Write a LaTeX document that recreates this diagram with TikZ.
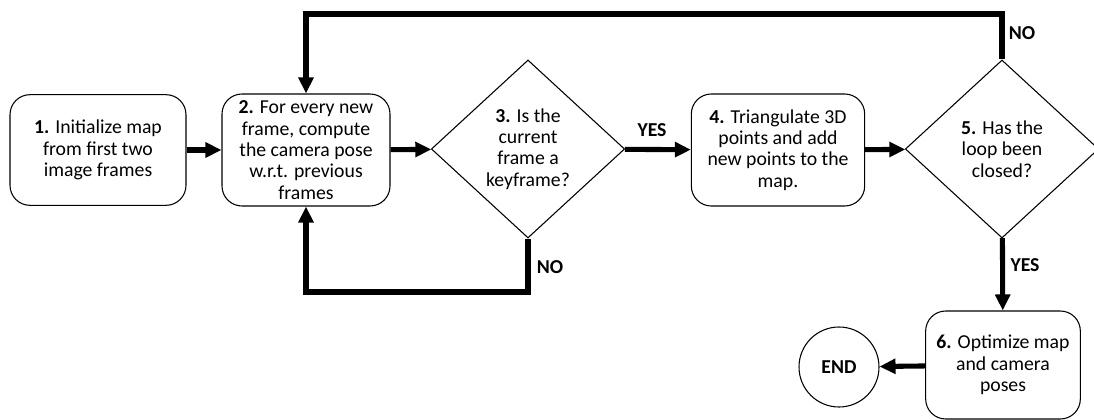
\documentclass[tikz,border=0pt]{standalone}
\usepackage{fontspec}
\setmainfont{Carlito}
\usetikzlibrary{arrows.meta,shapes.geometric}
\definecolor{ink}{HTML}{000000}

\begin{document}
\begin{tikzpicture}[
  x=0.75pt, y=-0.75pt, font=\fontsize{14.8}{16}\selectfont,
  stepbox/.style={draw=ink, line width=0.8pt, rounded corners=15pt, align=center, inner sep=0pt},
  decision/.style={diamond, draw=ink, line width=0.8pt, align=center, inner sep=0pt,
    minimum width=145pt, minimum height=133.5pt},
  endnode/.style={circle, draw=ink, line width=0.8pt, minimum size=60pt, inner sep=0pt, font=\fontsize{14.8}{16}\selectfont\bfseries},
  flow/.style={draw=ink, line width=3.8pt, line join=miter, -{Triangle[length=12pt, width=11pt]}},
  answer/.style={font=\fontsize{14.8}{16}\selectfont\bfseries, text=ink}
]
\useasboundingbox (0,0) rectangle (1094,420);

\node[stepbox, minimum width=132pt, minimum height=83pt] (init) at (98,150)
  {\textbf{1.} Initialize map\\from first two\\image frames};
\node[stepbox, minimum width=126pt, minimum height=84pt] (pose) at (306,150)
  {\textbf{2.} For every new\\frame, compute\\the camera pose\\w.r.t. previous\\frames};
\node[decision] (iskey) at (528,149)
  {\textbf{3.} Is the\\current\\frame a\\keyframe?};
\node[stepbox, minimum width=130pt, minimum height=84pt] (triang) at (778,150)
  {\textbf{4.} Triangulate 3D\\points and add\\new points to the\\map.};
\node[decision] (closed) at (1002,149)
  {\textbf{5.} Has the\\loop been\\closed?};
\node[stepbox, minimum width=116pt, minimum height=81pt] (optim) at (1003,365)
  {\textbf{6.} Optimize map\\and camera\\poses};
\node[endnode] (fin) at (839,367) {END};

% loop rails
\coordinate (toprail) at (1002,14);
\coordinate (botrail) at (528,292);

\draw[flow] (init) -- (pose);
\draw[flow] (pose) -- (iskey);
\draw[flow] (iskey) -- (triang);
\draw[flow] (triang) -- (closed);
\draw[flow] (closed) -- (optim);
\draw[flow] (optim) -- (fin);
\draw[flow] (closed.north) -- (toprail) -| (pose.north);
\draw[flow] (iskey.south) -- (botrail) -| (pose.south);

\node[answer] (yes1) at (652,130) {YES};
\node[answer] (no1) at (550,267) {NO};
\node[answer] (no2) at (1022,33) {NO};
\node[answer] (yes2) at (1025,265) {YES};
\end{tikzpicture}
\end{document}
